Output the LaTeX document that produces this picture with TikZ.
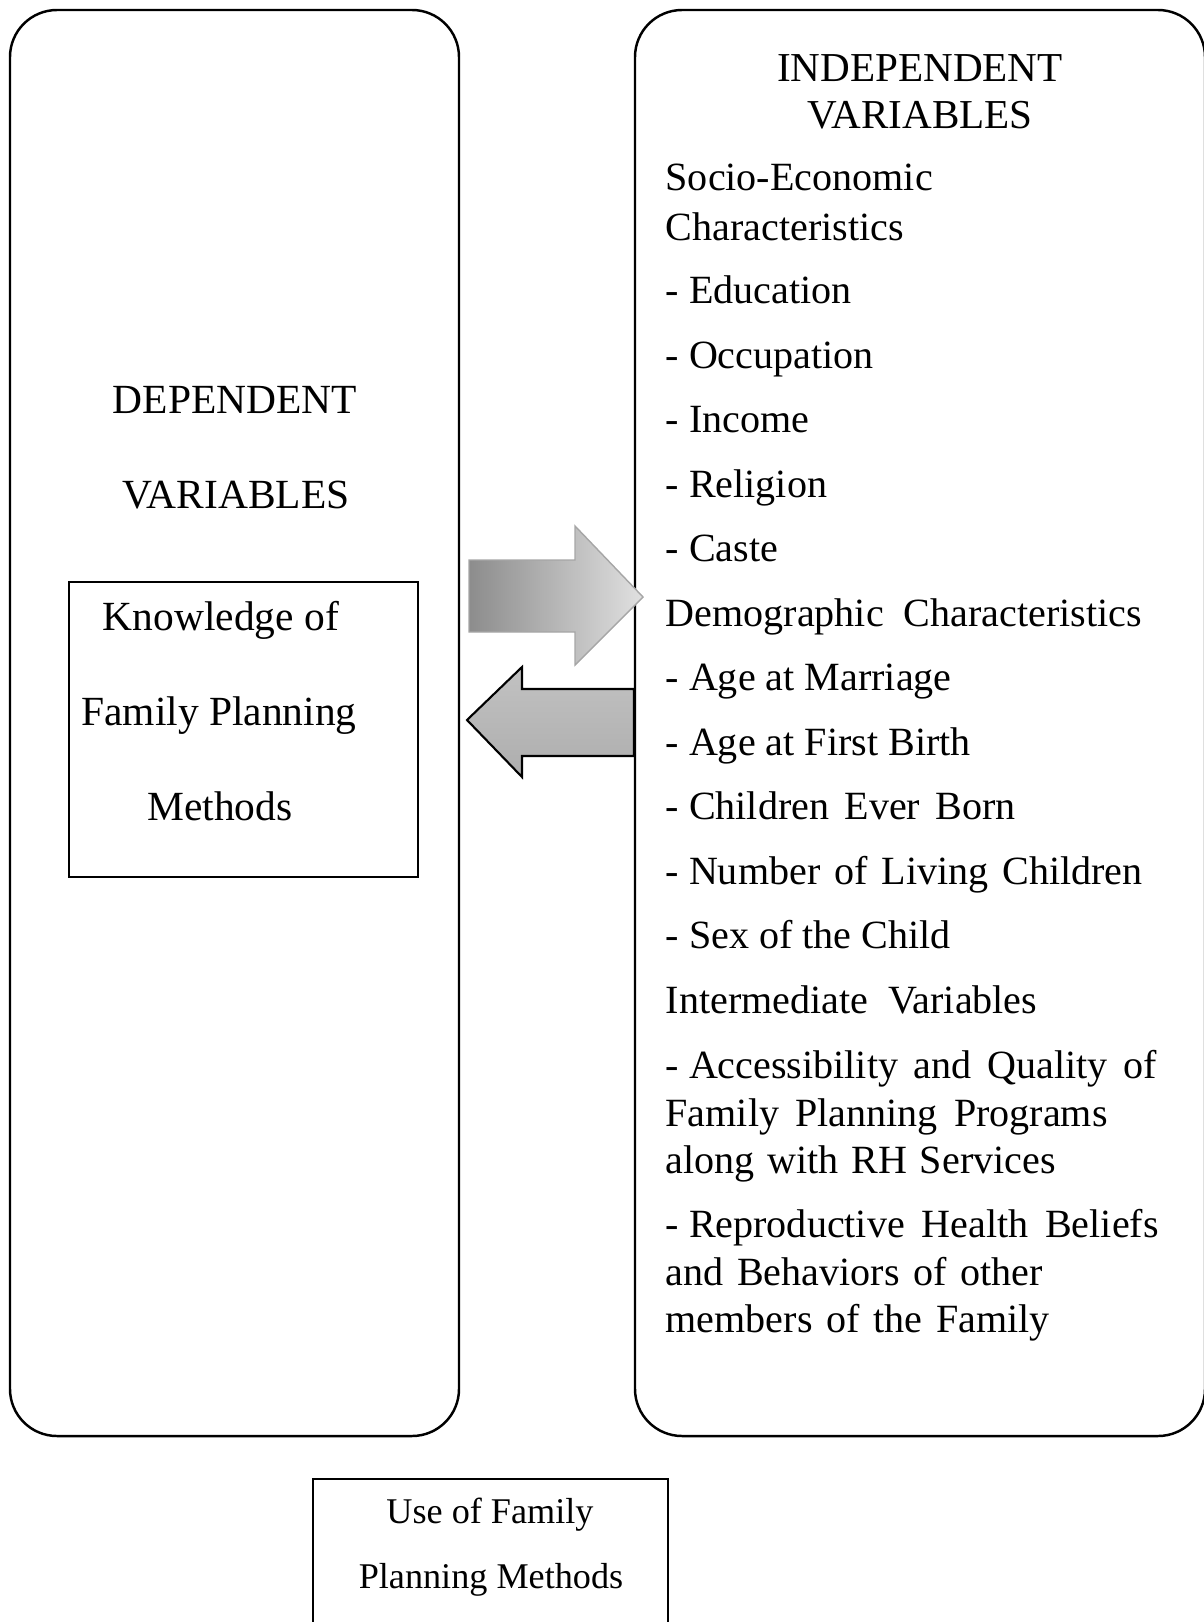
\documentclass[tikz,border=0pt]{standalone}
\usepackage{fontspec}
\setmainfont{Liberation Serif}

% stretch a line to a given width (cm), like justified text
\newcommand{\fitline}[2]{\makebox[#1cm][s]{#2}}
\newcommand{\dashlead}{\mbox{-\ }}

\tikzset{
    bigbox/.style={draw, line width=0.7pt, rounded corners=0.47cm},
    plainbox/.style={draw, line width=0.5pt},
    lhead/.style={anchor=base, inner sep=0pt, font=\fontsize{11.8}{14}\selectfont},
    rhead/.style={anchor=base, inner sep=0pt, font=\fontsize{11.7}{14}\selectfont},
    item/.style={anchor=base west, inner sep=0pt, font=\fontsize{11.4}{14}\selectfont},
    usetext/.style={anchor=base, inner sep=0pt, font=\fontsize{10.3}{12}\selectfont},
}

\begin{document}
\begin{tikzpicture}

\useasboundingbox (0,0) rectangle (12.03,-16.22);

% the two large boxes
\draw[bigbox] (0.10,-0.10) rectangle (4.59,-14.36);
\draw[bigbox] (6.35,-0.10) rectangle (12.05,-14.36);

% inner boxes
\draw[plainbox] (0.69,-5.82) rectangle (4.18,-8.77);
\draw[plainbox] (3.13,-14.79) rectangle (6.68,-16.60);

% arrows
\draw[draw=black!35, line width=0.4pt, left color=black!45, right color=black!12]
    (4.69,-5.60) -- (5.75,-5.60) -- (5.75,-5.26) -- (6.43,-5.97)
    -- (5.75,-6.65) -- (5.75,-6.32) -- (4.69,-6.32) -- cycle;
\draw[draw=black, line width=0.6pt, top color=black!24, bottom color=black!32]
    (6.34,-6.89) -- (5.22,-6.89) -- (5.22,-6.67) -- (4.67,-7.20)
    -- (5.22,-7.77) -- (5.22,-7.56) -- (6.34,-7.56) -- cycle;

% dependent side
\draw (2.35,-4.13) node[lhead] (dep1) {DEPENDENT};
\draw (2.36,-5.08) node[lhead] (dep2) {VARIABLES};
\draw (2.21,-6.30) node[lhead] (know1) {Knowledge of};
\draw (2.19,-7.25) node[lhead] (know2) {Family Planning};
\draw (2.20,-8.20) node[lhead] (know3) {Methods};

% independent side
\draw (9.20,-0.81) node[rhead] (ind1) {INDEPENDENT};
\draw (9.20,-1.28) node[rhead] (ind2) {VARIABLES};

\draw (6.65,-1.90) node[item] (soc1) {Socio-Economic};
\draw (6.65,-2.40) node[item] (soc2) {Characteristics};
\draw (6.65,-3.03) node[item] (edu) {- Education};
\draw (6.65,-3.68) node[item] (occ) {- Occupation};
\draw (6.65,-4.32) node[item] (inc) {- Income};
\draw (6.65,-4.97) node[item] (rel) {- Religion};
\draw (6.65,-5.61) node[item] (cas) {- Caste};

\draw (6.65,-6.26) node[item] (dem) {Demographic\ \ Characteristics};
\draw (6.65,-6.90) node[item] (agem) {- Age at Marriage};
\draw (6.65,-7.55) node[item] (agef) {- Age at First Birth};
\draw (6.65,-8.19) node[item] (ceb) {\fitline{3.50}{\dashlead Children Ever Born}};
\draw (6.65,-8.84) node[item] (nlc) {\fitline{4.77}{\dashlead Number of Living Children}};
\draw (6.65,-9.48) node[item] (sex) {- Sex of the Child};

\draw (6.65,-10.13) node[item] (intm) {Intermediate\ \ Variables};
\draw (6.65,-10.78) node[item] (acc1) {\fitline{4.91}{\dashlead Accessibility and Quality of}};
\draw (6.65,-11.26) node[item] (acc2) {\fitline{4.42}{Family Planning Programs}};
\draw (6.65,-11.73) node[item] (acc3) {\fitline{3.90}{along with RH Services}};
\draw (6.65,-12.37) node[item] (rep1) {\fitline{4.93}{\dashlead Reproductive Health Beliefs}};
\draw (6.65,-12.85) node[item] (rep2) {\fitline{3.77}{and Behaviors of other}};
\draw (6.65,-13.32) node[item] (rep3) {\fitline{3.84}{members of the Family}};

% bottom box
\draw (4.90,-15.23) node[usetext] (use1) {Use of Family};
\draw (4.91,-15.88) node[usetext] (use2) {Planning Methods};

\end{tikzpicture}
\end{document}
